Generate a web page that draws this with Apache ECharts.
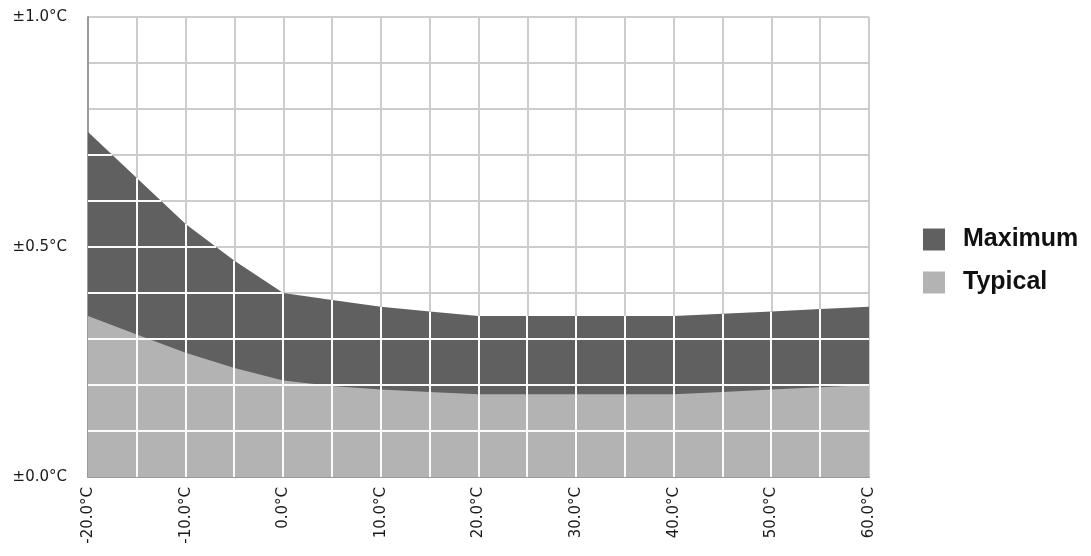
<!DOCTYPE html>
<html>
<head>
<meta charset="utf-8">
<script src="https://cdn.jsdelivr.net/npm/echarts@6/dist/echarts.min.js"></script>
<style>html,body{margin:0;padding:0;background:#fff}#c{width:1091px;height:556px}</style>
</head>
<body>
<div id="c"></div>
<script>
const temps   = [-20, -15, -10, -5, 0, 5, 10, 15, 20, 25, 30, 35, 40, 45, 50, 55, 60];
const maximum = [0.75, 0.65, 0.55, 0.47, 0.40, 0.385, 0.37, 0.36, 0.35, 0.35, 0.35, 0.35, 0.35, 0.355, 0.36, 0.365, 0.37];
const typical = [0.35, 0.31, 0.27, 0.237, 0.21, 0.198, 0.19, 0.185, 0.18, 0.18, 0.18, 0.18, 0.18, 0.185, 0.19, 0.195, 0.20];
const gridY   = [0.1, 0.2, 0.3, 0.4, 0.5, 0.6, 0.7, 0.8, 0.9];
const seriesNames = ['Maximum', 'Typical'];

const chart = echarts.init(document.getElementById('c'), null, {renderer: 'canvas'});
const font = '"DejaVu Sans", sans-serif';
const WHITE = '#fbfbfb';

function renderWhiteGrid(params, api) {
  if (params.dataIndex !== 0) return;
  const children = [];
  const line = (x1, y1, x2, y2) => children.push({
    type: 'line', shape: {x1, y1, x2, y2}, style: {stroke: WHITE, lineWidth: 2}
  });
  for (let i = 1; i < temps.length - 1; i++) {
    const p0 = api.coord([temps[i], 0]);
    const p1 = api.coord([temps[i], maximum[i]]);
    const x = Math.round(p0[0]);
    line(x, p0[1], x, p1[1]);
  }
  gridY.forEach(y => {
    for (let i = 0; i < temps.length - 1; i++) {
      const a = maximum[i], b = maximum[i + 1];
      if (a <= y && b <= y) continue;
      let xa = temps[i], xb = temps[i + 1];
      if (a < y) xa = temps[i] + (y - a) / (b - a) * (temps[i + 1] - temps[i]);
      if (b < y) xb = temps[i] + (y - a) / (b - a) * (temps[i + 1] - temps[i]);
      const p0 = api.coord([xa, y]);
      const p1 = api.coord([xb, y]);
      const yy = Math.round(p0[1]);
      line(p0[0], yy, p1[0], yy);
    }
  });
  return {type: 'group', children};
}

chart.setOption({
  animation: false,
  backgroundColor: '#fff',
  grid: {left: 88, right: 222, top: 17, bottom: 79, containLabel: false,
         show: true, borderColor: '#ababab', borderWidth: 1},
  legend: {
    data: seriesNames,
    orient: 'vertical',
    left: 918, top: 222,
    icon: 'rect',
    itemWidth: 22, itemHeight: 22, itemGap: 18,
    textStyle: {fontFamily: '"Liberation Sans", Arial, sans-serif', fontWeight: 'bold', fontSize: 25, color: '#111', lineHeight: 22, padding: [0, 0, 0, 13]}
  },
  xAxis: {
    type: 'value', min: -20, max: 60, interval: 5,
    axisLine: {show: true, onZero: false, lineStyle: {color: '#9a9a9a', width: 2}},
    axisTick: {show: false},
    splitLine: {show: true, lineStyle: {color: '#cdcdcd', width: 2}},
    axisLabel: {
      rotate: 90, margin: 10, fontSize: 15, color: '#1a1a1a', fontFamily: font,
      formatter: v => (v % 10 === 0 ? v.toFixed(1) + '°C' : '')
    }
  },
  yAxis: {
    type: 'value', min: 0, max: 1, interval: 0.1,
    axisLine: {show: true, onZero: false, lineStyle: {color: '#9a9a9a', width: 2}},
    axisTick: {show: false},
    splitLine: {show: true, lineStyle: {color: '#cdcdcd', width: 2}},
    axisLabel: {
      margin: 21, fontSize: 15, color: '#1a1a1a', fontFamily: font,
      formatter: v => {
        const r = Math.round(v * 10);
        return r % 5 === 0 ? '±' + (r / 10).toFixed(1) + '°C' : '';
      }
    }
  },
  series: [
    {
      name: seriesNames[0], type: 'line', z: 2,
      data: temps.map((t, i) => [t, maximum[i]]),
      showSymbol: false, symbol: 'none',
      lineStyle: {width: 0, opacity: 0},
      itemStyle: {color: '#606060'},
      areaStyle: {color: '#606060', opacity: 1}
    },
    {
      name: seriesNames[1], type: 'line', z: 3,
      data: temps.map((t, i) => [t, typical[i]]),
      showSymbol: false, symbol: 'none',
      lineStyle: {width: 0, opacity: 0},
      itemStyle: {color: '#b3b3b3'},
      areaStyle: {color: '#b3b3b3', opacity: 1}
    },
    {
      name: 'grid', type: 'custom', z: 4, silent: true,
      data: [[0, 0]],
      renderItem: renderWhiteGrid
    }
  ]
});
</script>
</body>
</html>
